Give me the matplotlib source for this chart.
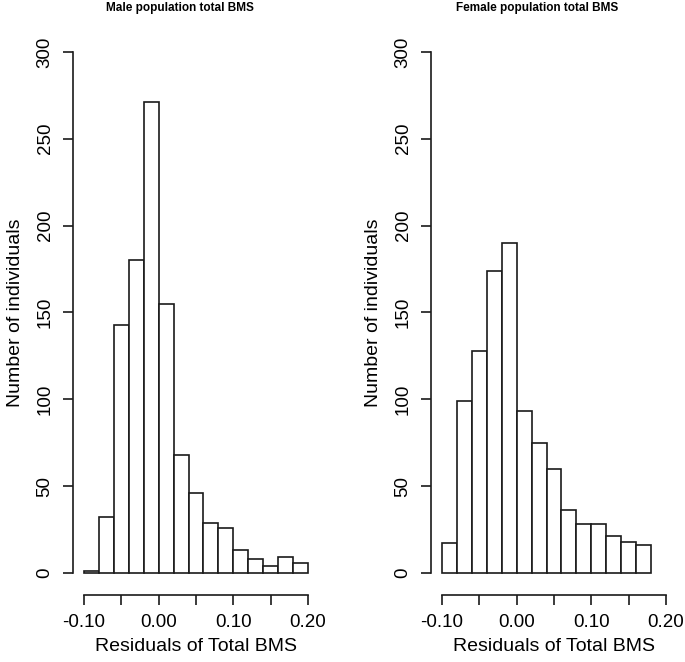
import numpy as np
import matplotlib
matplotlib.use("Agg")
import matplotlib.pyplot as plt

plt.rcParams["font.family"] = ["Liberation Sans", "DejaVu Sans"]

# counts (bin width 0.02, starting at -0.10)
male_counts = [1, 32, 143, 180, 271, 155, 68, 46, 29, 26, 13, 8, 4, 9, 6]
female_counts = [17, 99, 128, 174, 190, 93, 75, 60, 36, 28, 28, 21, 18, 16]
bin_start = -0.10
bin_width = 0.02

titles = ["Male population total BMS", "Female population total BMS"]
xticks = [-0.10, -0.05, 0.00, 0.05, 0.10, 0.15, 0.20]
xlabels = ["-0.10", "", "0.00", "", "0.10", "", "0.20"]
yticks = [0, 50, 100, 150, 200, 250, 300]

W, H = 685, 662
fig = plt.figure(figsize=(W / 100, H / 100), dpi=100)

# axes boxes in pixels: left edge, right edge, top, bottom
boxes = [(73, 319, 31, 595), (431, 677, 31, 595)]
title_x = [180, 537]

for i, counts in enumerate([male_counts, female_counts]):
    l, r, t, b = boxes[i]
    ax = fig.add_axes([l / W, 1 - b / H, (r - l) / W, (b - t) / H])
    edges = bin_start + bin_width * np.arange(len(counts))
    ax.bar(edges, counts, width=bin_width, align="edge",
           facecolor="white", edgecolor="#1a1a1a", linewidth=1.2)
    ax.set_xlim(-0.1147, 0.2147)
    ax.set_ylim(-12.7, 312)
    for s in ["top", "right"]:
        ax.spines[s].set_visible(False)
    ax.spines["left"].set_bounds(0, 300)
    ax.spines["bottom"].set_bounds(-0.10, 0.20)
    for s in ["left", "bottom"]:
        ax.spines[s].set_linewidth(1.2)
        ax.spines[s].set_color("#1a1a1a")
    ax.set_xticks(xticks)
    ax.set_xticklabels(xlabels)
    ax.set_yticks(yticks)
    ax.set_yticklabels([str(v) for v in yticks], rotation=90, va="center")
    ax.tick_params(direction="out", length=7, width=1.2, color="#1a1a1a",
                   labelsize=13.5, pad=7)
    ax.set_xlabel("Residuals of Total BMS", fontsize=14, labelpad=5)
    ax.set_ylabel("Number of individuals", fontsize=14, labelpad=9)
    fig.text(title_x[i] / W, 1 - 8 / H, titles[i], ha="center", va="center",
             fontsize=8.5, fontweight="bold")

fig.savefig("out.png", dpi=100)
